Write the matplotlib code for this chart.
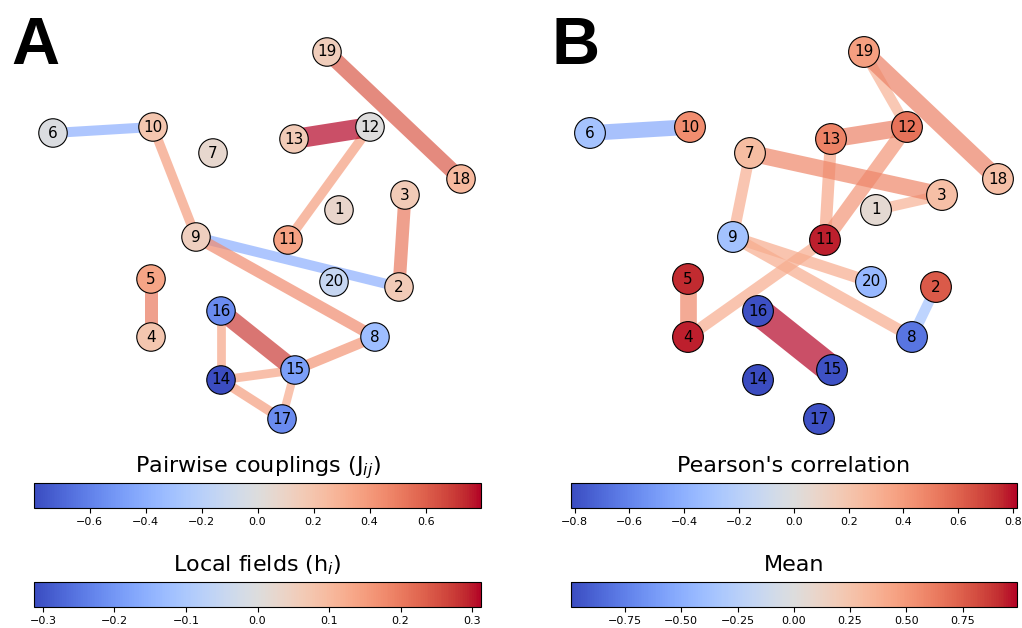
import numpy as np
import matplotlib
matplotlib.use("Agg")
import matplotlib.pyplot as plt
from matplotlib.collections import LineCollection
from matplotlib.colors import Normalize
from matplotlib.cm import ScalarMappable

# node ids and layout shared by both networks
nodes = list(range(1, 21))
pos_x = [0.41, 0.71, 0.74, -0.53, -0.53, -1.02, -0.22, 0.59, -0.305, -0.52,
         0.155, 0.565, 0.185, -0.18, 0.19, -0.18, 0.125, 1.02, 0.35, 0.385]
pos_y = [0.125, -0.26, 0.20, -0.51, -0.22, 0.51, 0.41, -0.51, -0.01, 0.54,
         -0.025, 0.54, 0.48, -0.725, -0.675, -0.38, -0.92, 0.28, 0.915, -0.235]

# A: inferred model
h_fields = [0.031, 0.062, 0.062, 0.075, 0.137, -0.005, 0.025, -0.125, 0.05, 0.075,
            0.143, 0.0, 0.062, -0.312, -0.187, -0.218, -0.218, 0.1, 0.056, -0.05]
J_edges = [(6, 10), (10, 9), (12, 11), (3, 2), (9, 2), (9, 8), (5, 4), (19, 18),
           (16, 14), (14, 15), (15, 8), (14, 17), (15, 17), (16, 15), (13, 12)]
J_vals = [-0.40, 0.38, 0.38, 0.52, -0.40, 0.45, 0.52, 0.62,
          0.35, 0.35, 0.42, 0.38, 0.33, 0.70, 0.797]

# B: data statistics
means = [0.06, 0.76, 0.28, 0.94, 0.92, -0.36, 0.30, -0.80, -0.37, 0.55,
         0.94, 0.67, 0.60, -0.99, -0.96, -0.97, -0.96, 0.28, 0.47, -0.44]
r_edges = [(6, 10), (19, 12), (1, 3), (7, 9), (9, 20), (9, 8), (11, 4), (13, 11),
           (12, 11), (7, 3), (13, 12), (19, 18), (5, 4), (2, 8), (16, 15)]
r_vals = [-0.45, 0.30, 0.30, 0.32, 0.33, 0.33, 0.33, 0.35,
          0.42, 0.48, 0.50, 0.50, 0.48, -0.30, 0.813]

cmap = plt.get_cmap("coolwarm")
idx = {n: i for i, n in enumerate(nodes)}


def draw_net(ax, node_vals, edges, edge_vals, node_norm, edge_norm, wscale, nsize):
    segs = [[(pos_x[idx[a]], pos_y[idx[a]]), (pos_x[idx[b]], pos_y[idx[b]])] for a, b in edges]
    ev = np.array(edge_vals)
    lc = LineCollection(segs, colors=cmap(edge_norm(ev)), linewidths=wscale * np.abs(ev),
                        alpha=0.7, zorder=1)
    ax.add_collection(lc)
    ax.scatter(pos_x, pos_y, s=nsize, c=cmap(node_norm(np.array(node_vals))),
               edgecolors="black", linewidths=0.8, zorder=2)
    for n, x, y in zip(nodes, pos_x, pos_y):
        ax.text(x, y, str(n), ha="center", va="center", fontsize=11, zorder=3)
    ax.set_ylim(-1.025, 1.175)
    ax.axis("off")


def add_cbar(fig, rect, norm, label):
    cax = fig.add_axes(rect)
    cb = fig.colorbar(ScalarMappable(norm=norm, cmap=cmap), cax=cax, orientation="horizontal")
    cb.ax.tick_params(labelsize=8)
    cb.ax.set_title(label, fontsize=16, pad=8)
    return cb


fig = plt.figure(figsize=(10.22, 6.28), dpi=100)

normJ = Normalize(-max(np.abs(J_vals)), max(np.abs(J_vals)))
normh = Normalize(-max(np.abs(h_fields)), max(np.abs(h_fields)))
normr = Normalize(-max(np.abs(r_vals)), max(np.abs(r_vals)))
normm = Normalize(-max(np.abs(means)), max(np.abs(means)))

axA = fig.add_axes([0, 188 / 628, 0.5, 440 / 628])
draw_net(axA, h_fields, J_edges, J_vals, normh, normJ, 18, 420)
axA.set_xlim(-1.285, 1.27)

axB = fig.add_axes([0.5, 188 / 628, 0.5, 440 / 628])
draw_net(axB, means, r_edges, r_vals, normm, normr, 25, 490)
axB.set_xlim(-1.415, 1.14)

add_cbar(fig, [0.0336, 0.1916, 0.4368, 0.0389], normJ, "Pairwise couplings (J$_{ij}$)")
add_cbar(fig, [0.0336, 0.0339, 0.4368, 0.0389], normh, "Local fields (h$_i$)")
add_cbar(fig, [0.5587, 0.1916, 0.4361, 0.0389], normr, "Pearson's correlation")
add_cbar(fig, [0.5587, 0.0339, 0.4361, 0.0389], normm, "Mean")

fig.text(11 / 1022, 1 - 64.3 / 628, "A", fontsize=48, fontweight="bold",
         family="Liberation Sans", ha="left", va="baseline")
fig.text(551 / 1022, 1 - 64.3 / 628, "B", fontsize=48, fontweight="bold",
         family="Liberation Sans", ha="left", va="baseline")

fig.savefig("out.png", dpi=100)
